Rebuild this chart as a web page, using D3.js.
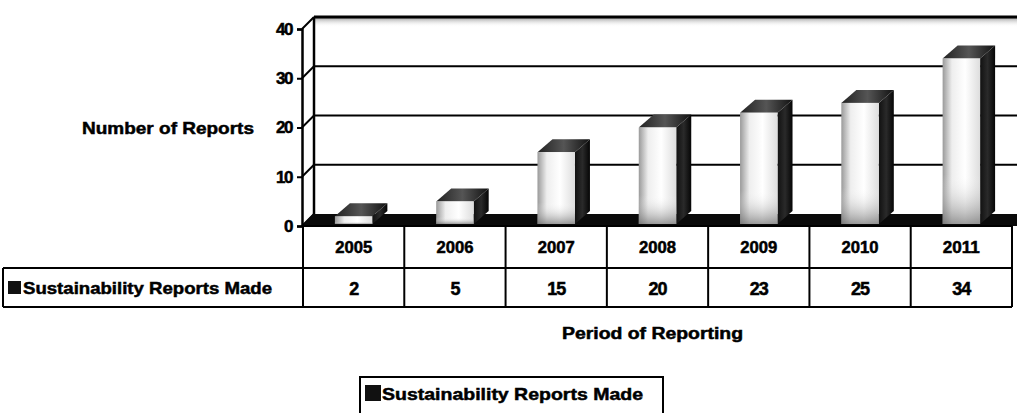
<!DOCTYPE html>
<html><head><meta charset="utf-8">
<script src="https://cdn.jsdelivr.net/npm/d3@7"></script>
<style>
html,body{margin:0;padding:0;background:#fff;}
svg{display:block;}
text{font-family:"Liberation Sans Narrow","Liberation Sans",Arial,sans-serif;font-weight:bold;fill:#000;stroke:#000;stroke-width:0.5px;}
</style></head>
<body>
<script>
const years = ["2005","2006","2007","2008","2009","2010","2011"];
const reports = [2,5,15,20,23,25,34];
const yTicks = [0,10,20,30,40];
const seriesName = "Sustainability Reports Made";
const yTitle = "Number of Reports";
const xTitle = "Period of Reporting";

const W = 1017, H = 413;
const svg = d3.select("body").append("svg").attr("width",W).attr("height",H);
const defs = svg.append("defs");

const x = d3.scaleBand().domain(years).range([303,1012]);
const y = d3.scaleLinear().domain([0,40]).range([226,29]);
const wdx = 11, wdy = -12;   // wall depth
const bdx = 15, bdy = -13;   // bar depth
const wallRight = 1030;

// gradients
const gFront = defs.append("linearGradient").attr("id","gFront");
[[0,"#9a9a9a"],[0.25,"#eeeeee"],[0.6,"#ffffff"],[1,"#dddddd"]].forEach(s=>gFront.append("stop").attr("offset",s[0]).attr("stop-color",s[1]));
const gFrontV = defs.append("linearGradient").attr("id","gFrontV").attr("x1",0).attr("y1",0).attr("x2",0).attr("y2",1);
[[0,"#fff",0],[0.7,"#fff",0],[1,"#666",0.65]].forEach(s=>gFrontV.append("stop").attr("offset",s[0]).attr("stop-color",s[1]).attr("stop-opacity",s[2]));
const gSide = defs.append("linearGradient").attr("id","gSide");
[[0,"#111"],[0.5,"#2a2a2a"],[1,"#050505"]].forEach(s=>gSide.append("stop").attr("offset",s[0]).attr("stop-color",s[1]));
const gTop = defs.append("linearGradient").attr("id","gTop");
[[0,"#222"],[0.5,"#555"],[1,"#111"]].forEach(s=>gTop.append("stop").attr("offset",s[0]).attr("stop-color",s[1]));
const gShadow = defs.append("linearGradient").attr("id","gShadow").attr("x1",0).attr("y1",0).attr("x2",0).attr("y2",1);
[[0,"#888",0.9],[1,"#fff",0]].forEach(s=>gShadow.append("stop").attr("offset",s[0]).attr("stop-color",s[1]).attr("stop-opacity",s[2]));

// back wall shadow below top
svg.append("rect").attr("x",x.range()[0]+wdx).attr("y",y(40)+wdy).attr("width",wallRight-x.range()[0]).attr("height",10).attr("fill","url(#gShadow)");

// back wall gridlines
svg.append("g").selectAll("line").data(yTicks.filter(t=>t>0)).join("line")
  .attr("x1",x.range()[0]+wdx).attr("x2",wallRight)
  .attr("y1",d=>y(d)+wdy).attr("y2",d=>y(d)+wdy)
  .attr("stroke","#000").attr("stroke-width",d=>d===40?3:2);
// back wall left edge
svg.append("line").attr("x1",x.range()[0]+wdx).attr("x2",x.range()[0]+wdx)
  .attr("y1",y(40)+wdy).attr("y2",y(0)+wdy).attr("stroke","#000").attr("stroke-width",2.5);
// side wall diagonals
svg.append("g").selectAll("line").data(yTicks).join("line")
  .attr("x1",x.range()[0]-1).attr("y1",d=>y(d))
  .attr("x2",x.range()[0]+wdx).attr("y2",d=>y(d)+wdy)
  .attr("stroke","#000").attr("stroke-width",2);

// floor
const x0 = x.range()[0]-1;
svg.append("path")
  .attr("d",`M${x0},${y(0)} L${x0+wdx},${y(0)+wdy} L${wallRight},${y(0)+wdy} L${wallRight},${y(0)} Z`)
  .attr("fill","#0a0a0a");

// bars
const bw = x.bandwidth()*0.37;
const bars = svg.append("g").selectAll("g").data(years.map((yr,i)=>({yr,v:reports[i]}))).join("g");
bars.each(function(d){
  const g = d3.select(this);
  const xl = x(d.yr)+x.bandwidth()/2-bw/2, xr = xl+bw;
  const yt = y(d.v), yb = y(0)-2;
  g.append("path").attr("d",`M${xr},${yb} L${xr+bdx},${yb+bdy} L${xr+bdx},${yt+bdy} L${xr},${yt} Z`).attr("fill","url(#gSide)");
  g.append("path").attr("d",`M${xl},${yt} L${xl+bdx},${yt+bdy} L${xr+bdx},${yt+bdy} L${xr},${yt} Z`).attr("fill","url(#gTop)");
  g.append("rect").attr("x",xl).attr("y",yt).attr("width",bw).attr("height",Math.max(0,yb-yt)).attr("fill","url(#gFront)");
  g.append("rect").attr("x",xl).attr("y",yt).attr("width",bw).attr("height",Math.max(0,yb-yt)).attr("fill","url(#gFrontV)");
});

// y axis
const ax = svg.append("g").attr("transform",`translate(${x0},0)`)
  .call(d3.axisLeft(y).tickValues(yTicks).tickSize(5).tickPadding(5));
ax.select(".domain").attr("stroke","#000").attr("stroke-width",2.5);
ax.selectAll(".tick line").attr("stroke","#000").attr("stroke-width",2);
ax.selectAll(".tick text").style("font-size","17px").style("font-family",'"Liberation Sans Narrow","Liberation Sans",Arial,sans-serif').style("font-weight","bold").attr("letter-spacing","-1.5").attr("fill","#000").attr("stroke","#000").attr("stroke-width",0.5);

// y title
svg.append("text").attr("x",254).attr("y",y(20)+6).attr("text-anchor","end")
  .style("font-size","17px").attr("textLength",172).attr("lengthAdjust","spacingAndGlyphs").text(yTitle);

// data table
const rowTop = y(0), r1 = 268, r2 = 307, labelLeft = 3;
const tbl = svg.append("g").attr("stroke","#000").attr("stroke-width",2).attr("fill","none");
tbl.append("line").attr("x1",x0).attr("x2",x.range()[1]).attr("y1",rowTop).attr("y2",rowTop);
tbl.append("line").attr("x1",labelLeft).attr("x2",x.range()[1]).attr("y1",r1).attr("y2",r1);
tbl.append("line").attr("x1",labelLeft).attr("x2",x.range()[1]).attr("y1",r2).attr("y2",r2);
tbl.append("line").attr("x1",labelLeft).attr("x2",labelLeft).attr("y1",r1).attr("y2",r2);
tbl.selectAll(".vl").data(years.concat(["end"])).join("line")
  .attr("x1",d=>d==="end"?x.range()[1]:x(d)).attr("x2",d=>d==="end"?x.range()[1]:x(d))
  .attr("y1",rowTop).attr("y2",r2);
svg.append("g").selectAll("text").data(years).join("text")
  .attr("x",d=>x(d)+x.bandwidth()/2).attr("y",(rowTop+r1)/2+6).attr("text-anchor","middle")
  .style("font-size","16px").attr("textLength",37).attr("lengthAdjust","spacingAndGlyphs").text(d=>d);
svg.append("g").selectAll("text").data(reports).join("text")
  .attr("x",(d,i)=>x(years[i])+x.bandwidth()/2).attr("y",(r1+r2)/2+7).attr("text-anchor","middle")
  .style("font-size","18px").attr("letter-spacing","-1").text(d=>d);
svg.append("rect").attr("x",8).attr("y",281).attr("width",13).attr("height",13).attr("fill","#111");
svg.append("text").attr("x",23).attr("y",294).style("font-size","17px")
  .attr("textLength",249).attr("lengthAdjust","spacingAndGlyphs").text(seriesName);

// x title
svg.append("text").attr("x",562).attr("y",339).style("font-size","16px")
  .attr("textLength",181).attr("lengthAdjust","spacingAndGlyphs").text(xTitle);

// legend
svg.append("rect").attr("x",360).attr("y",377).attr("width",303).attr("height",50).attr("fill","none").attr("stroke","#000").attr("stroke-width",2);
svg.append("rect").attr("x",365).attr("y",385).attr("width",16).attr("height",16).attr("fill","#111");
svg.append("text").attr("x",382).attr("y",400).style("font-size","17px")
  .attr("textLength",261).attr("lengthAdjust","spacingAndGlyphs").text(seriesName);
</script>
</body></html>
